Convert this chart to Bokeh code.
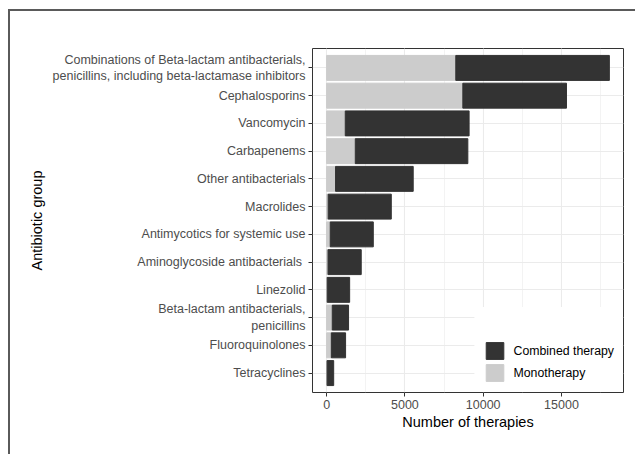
from bokeh.plotting import figure
from bokeh.models import (ColumnDataSource, FactorRange, Range1d, SingleIntervalTicker,
                          Legend, LegendItem)
from bokeh.embed import file_html
from bokeh.resources import INLINE

groups = [
    "Combinations of Beta-lactam antibacterials,\npenicillins, including beta-lactamase inhibitors",
    "Cephalosporins",
    "Vancomycin",
    "Carbapenems",
    "Other antibacterials",
    "Macrolides",
    "Antimycotics for systemic use",
    "Aminoglycoside antibacterials ",
    "Linezolid",
    "Beta-lactam antibacterials,\npenicillins",
    "Fluoroquinolones",
    "Tetracyclines",
]
monotherapy = [8250, 8700, 1190, 1830, 570, 100, 230, 90, 40, 360, 300, 30]
combined = [9810, 6620, 7910, 7190, 4960, 4030, 2750, 2120, 1430, 1040, 910, 420]

series = ["Monotherapy", "Combined therapy"]
colors = ["#CCCCCC", "#333333"]

source = ColumnDataSource(dict(group=groups, Monotherapy=monotherapy,
                               **{"Combined therapy": combined}))

xmax = max(m + c for m, c in zip(monotherapy, combined))
p = figure(
    width=627, height=445,
    y_range=FactorRange(*reversed(groups), range_padding=0.2, range_padding_units="absolute"),
    x_range=Range1d(-0.05 * xmax, 1.05 * xmax),
    output_backend="svg", toolbar_location=None,
    min_border_left=302, min_border_right=14, min_border_top=37, min_border_bottom=64,
)
p.styles = {"margin-left": "8px", "margin-top": "9px",
            "border-top": "2px solid #5a5a5a", "border-left": "2px solid #5a5a5a"}

renderers = p.hbar_stack(series, y="group", height=0.9, color=colors, source=source,
                         line_color=colors)

p.outline_line_color = "#333333"
p.outline_line_width = 1
p.background_fill_color = "white"

p.xaxis.ticker = SingleIntervalTicker(interval=5000, num_minor_ticks=2)
p.xgrid.minor_grid_line_color = "#EBEBEB"
p.xgrid.minor_grid_line_width = 0.6
p.xgrid.grid_line_color = "#EBEBEB"
p.xgrid.grid_line_width = 1.1
p.ygrid.grid_line_color = "#EBEBEB"
p.ygrid.grid_line_width = 1.1

for ax in (p.xaxis[0], p.yaxis[0]):
    ax.axis_line_color = None
    ax.major_tick_line_color = "#333333"
    ax.major_tick_out = 4
    ax.major_tick_in = 0
    ax.minor_tick_line_color = None
    ax.major_label_text_font = "Liberation Sans"
    ax.major_label_text_font_size = "12.5px"
    ax.major_label_text_color = "#4D4D4D"
    ax.major_label_standoff = 3
    ax.axis_label_text_font = "Liberation Sans"
    ax.axis_label_text_font_size = "14.5px"
    ax.axis_label_text_font_style = "normal"
    ax.axis_label_text_color = "black"

p.xaxis.axis_label = "Number of therapies"
p.xaxis.axis_label_standoff = 2
p.yaxis.axis_label = "Antibiotic group"
p.yaxis.axis_label_standoff = 5

legend = Legend(
    items=[LegendItem(label=series[1], renderers=[renderers[1]]),
           LegendItem(label=series[0], renderers=[renderers[0]])],
    location="bottom_right",
    title="\u00a0", title_text_font_size="15.5px", title_standoff=6,
    border_line_color="white", border_line_width=1,
    background_fill_color="white", background_fill_alpha=1.0,
    padding=8, margin=0, spacing=1,
    glyph_width=22, glyph_height=21, label_height=21, label_width=99, label_standoff=8,
    label_text_font="Liberation Sans", label_text_font_size="12.3px", label_text_color="black",
)
p.add_layout(legend)

open("out.html", "w").write(file_html(p, INLINE))
